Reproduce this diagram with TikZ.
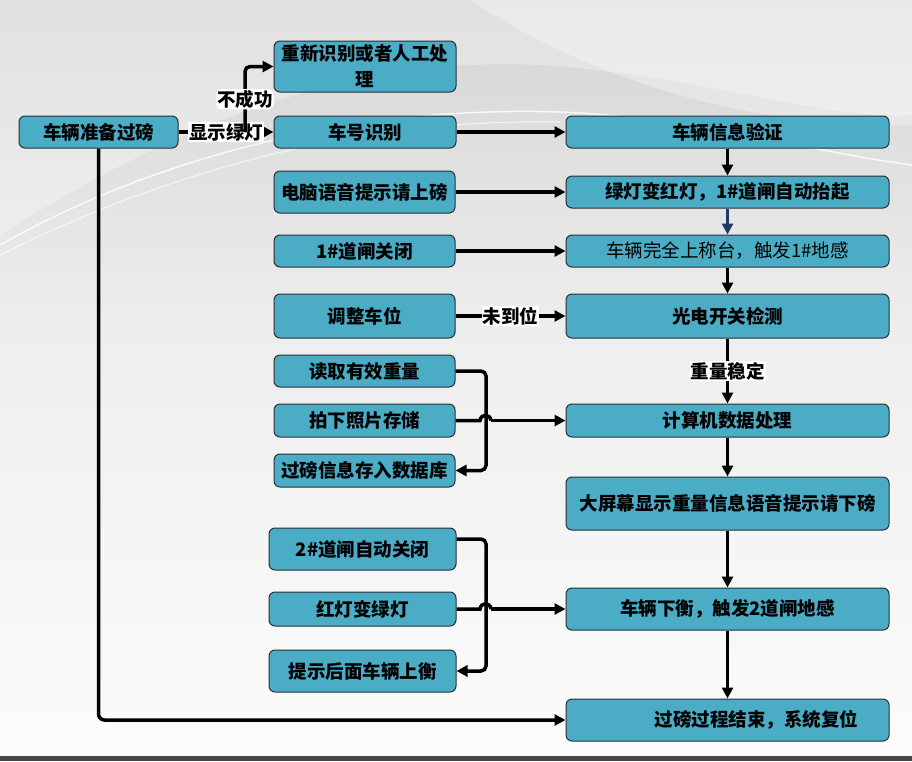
\documentclass[tikz,border=0pt]{standalone}
\usepackage{fontspec}
\setmainfont{Noto Sans CJK SC}
\usetikzlibrary{arrows.meta}
\definecolor{boxfill}{RGB}{75,172,198}
\definecolor{boxline}{RGB}{40,48,52}
\definecolor{navyarrow}{RGB}{31,56,100}
\definecolor{bgtop}{RGB}{212,212,212}
\definecolor{bgmid}{RGB}{238,238,238}
\definecolor{bgbot}{RGB}{252,252,252}
\begin{document}
\begin{tikzpicture}[x=1pt,y=-1pt,
  box/.style={draw=boxline, fill=boxfill, rounded corners=6pt, line width=1pt,
    font=\bfseries\fontsize{18.5}{26}\selectfont, inner sep=0pt, align=center},
  plainbox/.style={box, font=\fontsize{18.5}{26}\selectfont},
  lbl/.style={fill=white, inner sep=1pt, font=\bfseries\fontsize{18.5}{22}\selectfont},
  arr/.style={line width=3.5pt, -{Triangle[length=11pt,width=11pt]}},
  wire/.style={line width=3.5pt}
]
% ---------- background ----------
\useasboundingbox (0,0) rectangle (912,761);
\fill[top color=bgtop,bottom color=bgmid] (0,0) rectangle (912,330);
\fill[top color=bgmid,bottom color=bgbot] (0,330) rectangle (912,756);
\fill[white,opacity=0.3] (0,235) .. controls (150,140) and (330,55) .. (540,65) .. controls (700,75) and (820,120) .. (912,115) -- (912,0) -- (0,0) -- cycle;
\fill[white,opacity=0.3] (470,0) .. controls (560,60) and (720,130) .. (912,125) -- (912,0) -- cycle;
\draw[white,line width=1.5pt,opacity=0.8] (0,245) .. controls (150,160) and (350,105) .. (560,112) .. controls (700,118) and (800,150) .. (912,165);
\draw[white,line width=1pt,opacity=0.7] (0,255) .. controls (160,175) and (350,118) .. (560,122);
\fill[black!72] (0,756) rectangle (912,761);

% ---------- nodes ----------
\node[box,minimum width=159pt,minimum height=32pt] (prep) at (98.5,132) {车辆准备过磅};
\node[box,minimum width=182pt,minimum height=51pt] (retry) at (365,66.5) {重新识别或者人工处\\理};
\node[box,minimum width=182pt,minimum height=32pt] (plate) at (365,132) {车号识别};
\node[box,minimum width=323pt,minimum height=32pt] (verify) at (727.5,132) {车辆信息验证};
\node[box,minimum width=181pt,minimum height=42pt] (voice) at (364.5,192) {电脑语音提示请上磅};
\node[box,minimum width=323pt,minimum height=32pt] (lights) at (727.5,192) {绿灯变红灯，1\#道闸自动抬起};
\node[box,minimum width=181pt,minimum height=32pt] (gateone) at (364.5,251) {1\#道闸关闭};
\node[plainbox,minimum width=323pt,minimum height=32pt] (onscale) at (727.5,251) {车辆完全上称台，触发1\#地感};
\node[box,minimum width=181pt,minimum height=44pt] (adjust) at (364.5,316) {调整车位};
\node[box,minimum width=323pt,minimum height=44pt] (sensor) at (727.5,316) {光电开关检测};
\node[box,minimum width=181pt,minimum height=32pt] (read) at (364.5,371) {读取有效重量};
\node[box,minimum width=181pt,minimum height=33pt] (snap) at (364.5,420.5) {拍下照片存储};
\node[box,minimum width=181pt,minimum height=33pt] (db) at (364.5,470.5) {过磅信息存入数据库};
\node[box,minimum width=323pt,minimum height=33pt] (compute) at (727.5,420.5) {计算机数据处理};
\node[box,minimum width=323pt,minimum height=53pt] (screen) at (727.5,503.5) {大屏幕显示重量信息语音提示请下磅};
\node[box,minimum width=187pt,minimum height=42pt] (gatetwo) at (362.5,549) {2\#道闸自动关闭};
\node[box,minimum width=187pt,minimum height=34pt] (redgreen) at (362.5,609) {红灯变绿灯};
\node[box,minimum width=187pt,minimum height=42pt] (nextcar) at (362.5,671) {提示后面车辆上衡};
\node[box,minimum width=323pt,minimum height=42pt] (leave) at (727.5,609) {车辆下衡，触发2道闸地感};
\node[box,minimum width=323pt,minimum height=42pt] (finish) at (727.5,720) {\hspace*{58pt}过磅过程结束，系统复位};

% ---------- connectors ----------
\coordinate (br) at (245,132);
\draw[arr] (prep.east) -- node[lbl] {显示绿灯} (plate.west);
\draw[arr,rounded corners=5pt] (br) -- node[lbl,pos=0.5] {不成功} (br |- retry.west) -- (retry.west);
\draw[arr] (plate.east) -- (verify.west);
\draw[arr] (verify.south) -- (lights.north);
\draw[arr,draw=navyarrow,fill=navyarrow] (lights.south) -- (onscale.north);
\draw[arr] (onscale.south) -- (sensor.north);
\draw[arr] (sensor.south) -- node[lbl] {重量稳定} (compute.north);
\draw[arr] (compute.south) -- (screen.north);
\draw[arr] (screen.south) -- (leave.north);
\draw[arr] (leave.south) -- (finish.north);
\draw[arr] (voice.east) -- (lights.west);
\draw[arr] (gateone.east) -- (onscale.west);
\draw[arr] (adjust.east) -- node[lbl,pos=0.5] {未到位} (sensor.west);

% upper brace group
\coordinate (vone) at (486,0);
\draw[arr,rounded corners=5pt] (read.east) -- (read.east -| vone) -- (db.east -| vone) -- (db.east);
\draw[wire] (snap.east) -- (480,420.5) .. controls (481,413.5) and (490,413.5) .. (491,420.5);
\coordinate (hopone) at (491,420.5);
\draw[arr] (hopone) -- (compute.west);

% lower brace group
\coordinate (gtwoout) at ([yshift=10pt]gatetwo.east);
\draw[arr,rounded corners=5pt] (gtwoout) -- (gtwoout -| vone) -- (nextcar.east -| vone) -- (nextcar.east);
\draw[wire] (redgreen.east) -- (480,609) .. controls (481,602) and (490,602) .. (491,609);
\coordinate (hoptwo) at (491,609);
\draw[arr] (hoptwo) -- (leave.west);

% return line
\draw[arr,rounded corners=6pt] (prep.south) -- (prep.south |- finish.west) -- (finish.west);
\end{tikzpicture}
\end{document}
